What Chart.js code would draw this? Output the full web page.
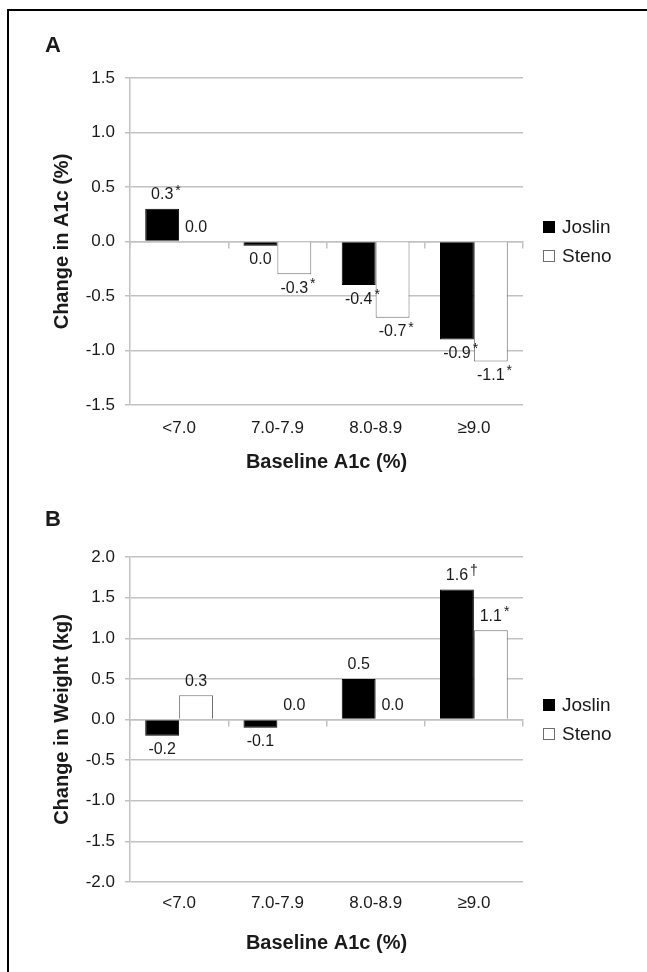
<!DOCTYPE html>
<html>
<head>
<meta charset="utf-8">
<script src="https://cdn.jsdelivr.net/npm/chart.js@4.4.1/dist/chart.umd.min.js"></script>
<style>
  body { margin: 0; background: #fff; }
  #wrap { position: relative; width: 647px; height: 972px; overflow: hidden; }
  #frame { position: absolute; left: 7px; top: 9px; width: 680px; height: 1000px; border: 2px solid #000; box-sizing: border-box; }
  #chartA { position: absolute; left: 0; top: 0; }
  #chartB { position: absolute; left: 0; top: 490px; }
</style>
</head>
<body>
<div id="wrap">
  <div id="frame"></div>
  <canvas id="chartA" width="647" height="490"></canvas>
  <canvas id="chartB" width="647" height="482"></canvas>
</div>
<script>
const categories = ['<7.0', '7.0-7.9', '8.0-8.9', '\u22659.0'];
const seriesNames = ['Joslin', 'Steno'];

// panel A - change in A1c (%)
const a1cJoslin = [0.3, -0.04, -0.4, -0.9];
const a1cSteno = [0.0, -0.3, -0.7, -1.1];
const a1cJoslinText = ['0.3', '0.0', '-0.4', '-0.9'];
const a1cStenoText = ['0.0', '-0.3', '-0.7', '-1.1'];
const a1cJoslinMarks = ['*', '', '*', '*'];
const a1cStenoMarks = ['', '*', '*', '*'];
const a1cRange = [-1.5, 1.5];

// panel B - change in weight (kg)
const wtJoslin = [-0.2, -0.1, 0.5, 1.6];
const wtSteno = [0.3, 0.0, 0.0, 1.1];
const wtJoslinText = ['-0.2', '-0.1', '0.5', '1.6'];
const wtStenoText = ['0.3', '0.0', '0.0', '1.1'];
const wtJoslinMarks = ['', '', '', '\u2020'];
const wtStenoMarks = ['', '', '', '*'];
const wtRange = [-2.0, 2.0];

const FONT = '"Liberation Sans", Arial, sans-serif';
const INK = '#1a1a1a';
const GRID = '#c2c2c2';

Chart.defaults.font.family = FONT;
Chart.defaults.color = INK;

// value labels above / below each bar, with superscript marks
const valueLabels = {
  id: 'valueLabels',
  afterDatasetsDraw(chart) {
    const ctx = chart.ctx;
    ctx.save();
    chart.data.datasets.forEach((ds, i) => {
      chart.getDatasetMeta(i).data.forEach((bar, j) => {
        const v = ds.data[j];
        const y = v < 0 ? bar.y + 14 : bar.y - 14;
        const t = ds.valueText[j];
        ctx.font = '16px ' + FONT;
        ctx.fillStyle = INK;
        ctx.textAlign = 'center';
        ctx.textBaseline = 'middle';
        ctx.fillText(t, bar.x, y);
        if (ds.marks[j]) {
          const w = ctx.measureText(t).width;
          ctx.font = '14px ' + FONT;
          ctx.textAlign = 'left';
          ctx.fillText(ds.marks[j], bar.x + w / 2 + 2, y - 4);
        }
      });
    });
    ctx.restore();
  }
};

// legend to the right + panel letter
const sideLegend = {
  id: 'sideLegend',
  afterDraw(chart, args, opts) {
    const { ctx, chartArea } = chart;
    ctx.save();
    const cy = (chartArea.top + chartArea.bottom) / 2;
    const x = chartArea.right + 20;
    chart.data.datasets.forEach((ds, i) => {
      const y = cy - 14.5 + i * 29;
      ctx.fillStyle = ds.backgroundColor;
      ctx.fillRect(x, y - 6, 12, 12);
      ctx.strokeStyle = ds.borderColor;
      ctx.lineWidth = 1;
      ctx.strokeRect(x + 0.5, y - 5.5, 11, 11);
      ctx.fillStyle = INK;
      ctx.font = '19px ' + FONT;
      ctx.textAlign = 'left';
      ctx.textBaseline = 'middle';
      ctx.fillText(ds.label, x + 19, y + 1);
    });
    ctx.font = 'bold 22px ' + FONT;
    ctx.textAlign = 'left';
    ctx.textBaseline = 'middle';
    ctx.fillText(opts.letter, 45, opts.letterY);
    ctx.restore();
  }
};

function makeChart(id, joslin, steno, jText, sText, jMarks, sMarks, range, yTitle, top, xHeight, tickPad, titlePad, letterY) {
  return new Chart(document.getElementById(id), {
    type: 'bar',
    data: {
      labels: categories,
      datasets: [
        { label: seriesNames[0], data: joslin, backgroundColor: '#000', borderColor: '#000', borderWidth: 1,
          valueText: jText, marks: jMarks },
        { label: seriesNames[1], data: steno, backgroundColor: '#fff', borderColor: '#6e6e6e', borderWidth: 1,
          valueText: sText, marks: sMarks }
      ]
    },
    options: {
      responsive: false,
      animation: false,
      categoryPercentage: 0.69,
      barPercentage: 1.0,
      layout: { padding: { top: top, right: 124, left: 0, bottom: 0 } },
      plugins: {
        legend: { display: false },
        tooltip: { enabled: false },
        sideLegend: { letter: id === 'chartA' ? 'A' : 'B', letterY: letterY }
      },
      scales: {
        x: {
          offset: true,
          grid: { display: false, drawTicks: false },
          border: { display: false },
          ticks: { font: { size: 17 }, color: INK, padding: tickPad },
          title: { display: true, text: 'Baseline A1c (%)', color: INK,
                   font: { size: 20, weight: 'bold' }, padding: { top: 0, bottom: titlePad } },
          afterFit(s) { s.height = xHeight; }
        },
        zero: {
          type: 'category',
          axis: 'x',
          position: { y: 0 },
          offset: true,
          grid: { offset: true, drawOnChartArea: false, tickLength: 6, color: GRID, lineWidth: 1.5 },
          border: { display: true, color: GRID, width: 1.5 },
          ticks: { display: false }
        },
        y: {
          min: range[0],
          max: range[1],
          ticks: { stepSize: 0.5, callback: v => v.toFixed(1), font: { size: 17 }, color: INK, padding: 10 },
          grid: { color: GRID, lineWidth: 1.5, tickLength: 5 },
          border: { display: true, color: GRID, width: 1.5 },
          title: { display: true, text: yTitle, color: INK,
                   font: { size: 20, weight: 'bold' }, padding: { top: 50, bottom: 0 } },
          afterFit(s) { s.width = 130; }
        }
      }
    },
    plugins: [valueLabels, sideLegend]
  });
}

makeChart('chartA', a1cJoslin, a1cSteno, a1cJoslinText, a1cStenoText, a1cJoslinMarks, a1cStenoMarks,
  a1cRange, 'Change in A1c (%)', 78, 85, 13, 16, 46);
makeChart('chartB', wtJoslin, wtSteno, wtJoslinText, wtStenoText, wtJoslinMarks, wtStenoMarks,
  wtRange, 'Change in Weight (kg)', 67, 90, 11, 17, 30);
</script>
</body>
</html>
